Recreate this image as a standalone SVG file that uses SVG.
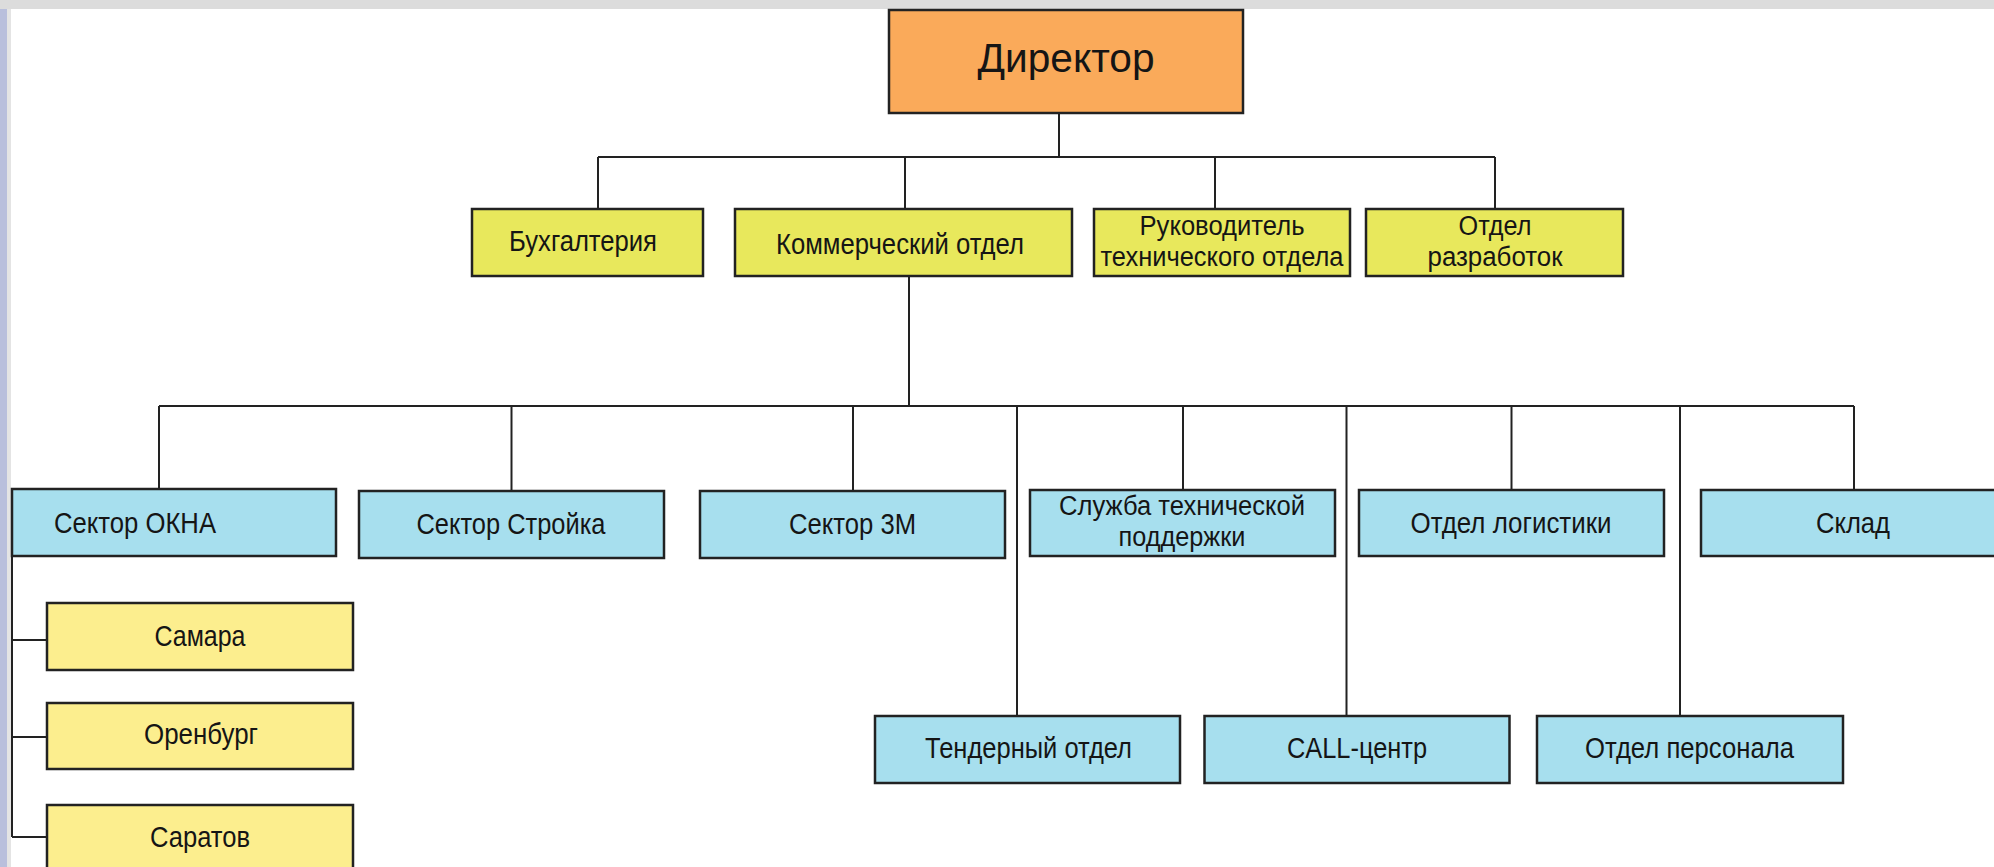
<svg xmlns="http://www.w3.org/2000/svg" width="1994" height="867" viewBox="0 0 1994 867">
<style>
  .box { stroke: #222; stroke-width: 2.5; }
  .dir { fill: #FAAA5A; }
  .lvl2 { fill: #E8E85C; }
  .lvl3 { fill: #A7DFEE; }
  .city { fill: #FCEE8E; }
  .t { font-family: "Liberation Sans", Arial, sans-serif; fill: #151515; text-anchor: middle; }
  .t1 { font-size: 30px; }
  .t2 { font-size: 27px; }
  .td { font-size: 41px; }
  .conn line { stroke: #222; stroke-width: 2; }
</style>
<rect x="0" y="0" width="1994" height="867" fill="#ffffff"/>
<rect x="0" y="0" width="1994" height="9" fill="#dcdcdc"/>
<rect x="0" y="9" width="7" height="858" fill="#b9bfdc"/>
<rect x="7" y="9" width="4" height="858" fill="#e4e4e4"/>

<g id="connectors" class="conn">
  <line x1="1059" y1="112" x2="1059" y2="157"/>
  <line x1="598" y1="157" x2="1495" y2="157"/>
  <line x1="598" y1="157" x2="598" y2="209"/>
  <line x1="905" y1="157" x2="905" y2="209"/>
  <line x1="1215" y1="157" x2="1215" y2="209"/>
  <line x1="1495" y1="157" x2="1495" y2="209"/>
  <line x1="909" y1="276" x2="909" y2="406"/>
  <line x1="159" y1="406" x2="1854" y2="406"/>
  <line x1="159" y1="406" x2="159" y2="489"/>
  <line x1="511.5" y1="406" x2="511.5" y2="491"/>
  <line x1="853" y1="406" x2="853" y2="491"/>
  <line x1="1183" y1="406" x2="1183" y2="490"/>
  <line x1="1511.5" y1="406" x2="1511.5" y2="490"/>
  <line x1="1854" y1="406" x2="1854" y2="490"/>
  <line x1="1017" y1="406" x2="1017" y2="716"/>
  <line x1="1346.5" y1="406" x2="1346.5" y2="716"/>
  <line x1="1680" y1="406" x2="1680" y2="716"/>
  <line x1="12" y1="556" x2="12" y2="837"/>
  <line x1="12" y1="640" x2="47" y2="640"/>
  <line x1="12" y1="737" x2="47" y2="737"/>
  <line x1="12" y1="837" x2="47" y2="837"/>
</g>

<g id="director">
  <rect class="box dir" x="889" y="10" width="354" height="103"/>
  <text class="t td" x="1066" y="72" textLength="177" lengthAdjust="spacingAndGlyphs">Директор</text>
</g>

<g id="buh">
  <rect class="box lvl2" x="472" y="209" width="231" height="67"/>
  <text class="t t1" x="583" y="251" textLength="148" lengthAdjust="spacingAndGlyphs">Бухгалтерия</text>
</g>
<g id="kommerch">
  <rect class="box lvl2" x="735" y="209" width="337" height="67"/>
  <text class="t t1" x="900" y="254" textLength="248" lengthAdjust="spacingAndGlyphs">Коммерческий отдел</text>
</g>
<g id="rukovod">
  <rect class="box lvl2" x="1094" y="209" width="256" height="67"/>
  <text class="t t2" x="1222" y="235" textLength="165" lengthAdjust="spacingAndGlyphs">Руководитель</text>
  <text class="t t2" x="1222" y="266" textLength="243" lengthAdjust="spacingAndGlyphs">технического отдела</text>
</g>
<g id="razrab">
  <rect class="box lvl2" x="1366" y="209" width="257" height="67"/>
  <text class="t t2" x="1495" y="235" textLength="73" lengthAdjust="spacingAndGlyphs">Отдел</text>
  <text class="t t2" x="1495" y="266" textLength="135" lengthAdjust="spacingAndGlyphs">разработок</text>
</g>

<g id="okna">
  <rect class="box lvl3" x="12" y="489" width="324" height="67"/>
  <text class="t t1" x="135" y="533" textLength="162" lengthAdjust="spacingAndGlyphs">Сектор ОКНА</text>
</g>
<g id="stroika">
  <rect class="box lvl3" x="359" y="491" width="305" height="67"/>
  <text class="t t1" x="511" y="534" textLength="189" lengthAdjust="spacingAndGlyphs">Сектор Стройка</text>
</g>
<g id="sector3m">
  <rect class="box lvl3" x="700" y="491" width="305" height="67"/>
  <text class="t t1" x="852.5" y="534" textLength="127" lengthAdjust="spacingAndGlyphs">Сектор 3М</text>
</g>
<g id="sluzhba">
  <rect class="box lvl3" x="1030" y="490" width="305" height="66"/>
  <text class="t t2" x="1182" y="515" textLength="246" lengthAdjust="spacingAndGlyphs">Служба технической</text>
  <text class="t t2" x="1182" y="546" textLength="127" lengthAdjust="spacingAndGlyphs">поддержки</text>
</g>
<g id="logistika">
  <rect class="box lvl3" x="1359" y="490" width="305" height="66"/>
  <text class="t t1" x="1511" y="533" textLength="201" lengthAdjust="spacingAndGlyphs">Отдел логистики</text>
</g>
<g id="sklad">
  <rect class="box lvl3" x="1701" y="490" width="310" height="66"/>
  <text class="t t1" x="1853" y="533" textLength="74" lengthAdjust="spacingAndGlyphs">Склад</text>
</g>

<g id="tender">
  <rect class="box lvl3" x="875" y="716" width="305" height="67"/>
  <text class="t t1" x="1028.5" y="758" textLength="207" lengthAdjust="spacingAndGlyphs">Тендерный отдел</text>
</g>
<g id="call">
  <rect class="box lvl3" x="1204.5" y="716" width="305" height="67"/>
  <text class="t t1" x="1357" y="758" textLength="140" lengthAdjust="spacingAndGlyphs">CALL-центр</text>
</g>
<g id="personal">
  <rect class="box lvl3" x="1537" y="716" width="306" height="67"/>
  <text class="t t1" x="1689.5" y="758" textLength="209" lengthAdjust="spacingAndGlyphs">Отдел персонала</text>
</g>

<g id="samara">
  <rect class="box city" x="47" y="603" width="306" height="67"/>
  <text class="t t1" x="200" y="646" textLength="91" lengthAdjust="spacingAndGlyphs">Самара</text>
</g>
<g id="orenburg">
  <rect class="box city" x="47" y="703" width="306" height="66"/>
  <text class="t t1" x="201" y="744" textLength="114" lengthAdjust="spacingAndGlyphs">Оренбург</text>
</g>
<g id="saratov">
  <rect class="box city" x="47" y="805" width="306" height="70"/>
  <text class="t t1" x="200" y="847" textLength="100" lengthAdjust="spacingAndGlyphs">Саратов</text>
</g>
</svg>
